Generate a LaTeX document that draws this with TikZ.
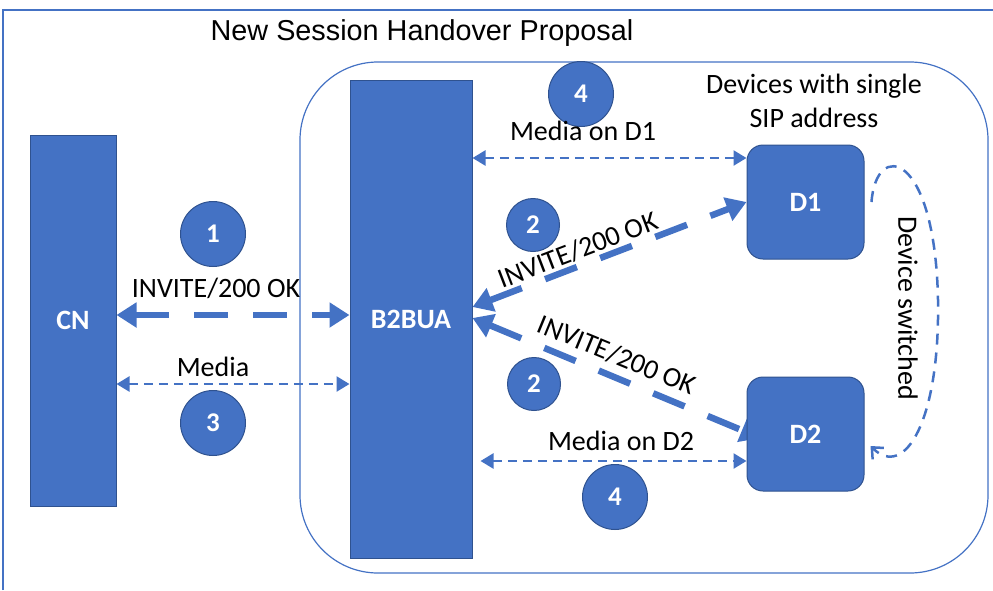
\documentclass[tikz,border=0pt]{standalone}
\usepackage{fontspec}
\setmainfont{Carlito}
\newfontfamily\arialf{Liberation Sans}
\usetikzlibrary{arrows.meta,backgrounds,calc}
\definecolor{ablue}{HTML}{4472C4}
\definecolor{dblue}{HTML}{2F528F}
\tikzset{
  blockbox/.style={fill=ablue,draw=dblue,line width=1pt,text=white,font=\bfseries\fontsize{28}{32}\selectfont,inner sep=0pt},
  devbox/.style={blockbox,rounded corners=16pt,minimum width=117pt,minimum height=114pt},
  numcirc/.style={circle,fill=ablue,draw=dblue,line width=1pt,text=white,font=\bfseries\fontsize{27}{30}\selectfont,inner sep=0pt},
  lbl/.style={font=\fontsize{28}{34}\selectfont,inner sep=0pt},
  sigarrow/.style={draw=ablue,line width=6.5pt,dash pattern=on 34pt off 25pt,{Triangle[width=24pt,length=20pt]}-{Triangle[width=24pt,length=20pt]}},
  medarrow/.style={draw=ablue,line width=2.5pt,dash pattern=on 9pt off 6pt,{Triangle[width=15pt,length=13pt]}-{Triangle[width=15pt,length=13pt]}},
  switcharrow/.style={draw=ablue,line width=2.5pt,dash pattern=on 11pt off 8pt,-{Straight Barb[length=9pt,width=16pt]}},
}
\begin{document}
\begin{tikzpicture}[x=1pt,y=-1pt]
\useasboundingbox (0,0) rectangle (993,590);
% nodes
\node[blockbox,minimum width=86pt,minimum height=371pt] (cn) at (73,320.5) {CN};
\node[blockbox,minimum width=122pt,minimum height=478pt] (b2bua) at (411,319) {B2BUA};
\node[devbox] (d1) at (805.5,202) {D1};
\node[devbox] (d2) at (805.5,434) {D2};
\node[numcirc,minimum size=65pt] (c1) at (213,234) {1};
\node[numcirc,minimum size=65pt] (c3) at (213,423) {3};
\node[numcirc,minimum size=53pt] (c2a) at (533,225) {2};
\node[numcirc,minimum size=53pt] (c2b) at (534,384) {2};
\node[numcirc,minimum size=65pt] (c4a) at (581,94) {4};
\node[numcirc,minimum size=65pt] (c4b) at (615,497) {4};
% labels
\node[font=\arialf\fontsize{28.8}{32}\selectfont,inner sep=0pt] (title) at (422,33) {New Session Handover Proposal};
\node[lbl,align=center] (devs) at (814,101) {Devices with single\\SIP address};
\node[lbl] (l1) at (216,288) {INVITE/200 OK};
\node[lbl] (l3) at (213,367) {Media};
\node[lbl] (l4a) at (583,131) {Media on D1};
\node[lbl] (l4b) at (621,441) {Media on D2};
\node[lbl,rotate=21] (l2a) at (578,250) {INVITE/200 OK};
\node[lbl,rotate=-22.4] (l2b) at (617,355) {INVITE/200 OK};
\node[lbl,rotate=-90] (lsw) at (908,308) {Device switched};
% row coordinates
\coordinate (rsig) at (0,315);
\coordinate (rmed) at (0,384);
\coordinate (rd1) at (0,158);
\coordinate (rd2) at (0,461);
\coordinate (rinvA) at (0,307);
\coordinate (rinvB) at (0,318);
\begin{scope}[on background layer]
  \draw[ablue,line width=1.5pt] (3,590) -- (3,10) -- (993,10);
  \draw[ablue,line width=1.2pt,rounded corners=78pt] (300,62) rectangle (988,573);
  \draw[sigarrow] (cn.east |- rsig) -- (b2bua.west |- rsig);
  \draw[medarrow] (cn.east |- rmed) -- (b2bua.west |- rmed);
  \draw[medarrow] (b2bua.east |- rd1) -- (d1.west |- rd1);
  \draw[medarrow] ([xshift=8pt]b2bua.east |- rd2) -- (d2.west |- rd2);
  \draw[sigarrow] (b2bua.east |- rinvA) -- (d1.west);
  \draw[sigarrow] (b2bua.east |- rinvB) -- ($(d2.west)+(14,4)$);
  \coordinate (swS) at ($(d1.east)+(7,0)$);
  \coordinate (swE) at ($(d2.east)+(6,12)$);
  \draw[switcharrow] (swS) .. controls (876,140) and (935,150) .. (938,300) .. controls (940,420) and (905,480) .. (swE);
\end{scope}
\end{tikzpicture}
\end{document}
